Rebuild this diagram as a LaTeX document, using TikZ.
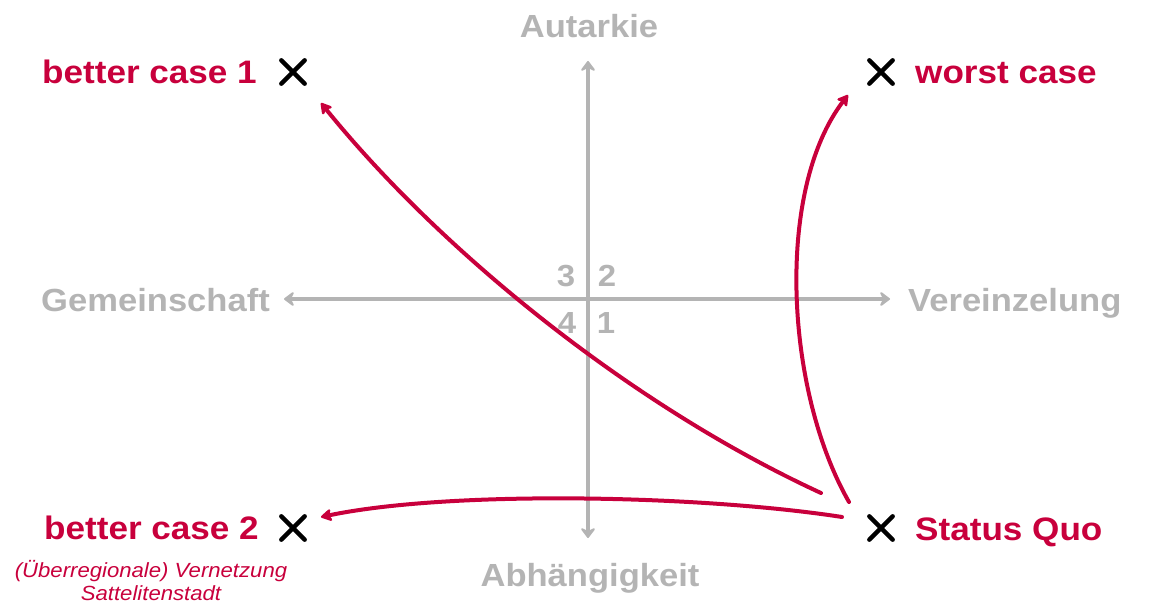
\documentclass[tikz,border=0pt]{standalone}
\usepackage{fontspec}
\setmainfont{Liberation Sans}
\newfontfamily\labfont[FakeStretch=1.08]{Liberation Sans}
\usetikzlibrary{arrows.meta,shapes.misc}
\definecolor{axgray}{RGB}{180,180,180}
\definecolor{cred}{RGB}{200,0,60}
\tikzset{
  axis/.style={draw=axgray,line width=3.6pt,{Stealth[length=12pt,width=18pt,inset=4.5pt,round]}-{Stealth[length=12pt,width=18pt,inset=4.5pt,round]}},
  axlabel/.style={text=axgray,inner sep=0pt,anchor=base,font=\labfont\bfseries\fontsize{32}{36}\selectfont},
  numlabel/.style={text=axgray,inner sep=0pt,anchor=base,font=\labfont\bfseries\fontsize{30.5}{34}\selectfont},
  caselabel/.style={text=cred,inner sep=0pt,font=\labfont\bfseries\fontsize{32.5}{36}\selectfont},
  sublabel/.style={text=cred,inner sep=0pt,anchor=base,font=\labfont\itshape\fontsize{20.5}{24}\selectfont},
  xmark/.style={cross out,draw=black,line width=4.4pt,line cap=round,minimum size=19pt,inner sep=0pt},
  move/.style={draw=cred,line width=4pt,line cap=round,-{Stealth[length=13pt,width=15pt,inset=3.5pt,round]}}
}
\begin{document}
\begin{tikzpicture}[x=1pt,y=-1pt]
\useasboundingbox (0,0) rectangle (1157,604);
% axes
\coordinate (top) at (588,61);
\coordinate (bot) at (588,538);
\coordinate (lft) at (284,299);
\coordinate (rgt) at (890,299);
\draw[axis] (bot) -- (top);
\draw[axis] (lft) -- (rgt);
% axis labels
\node[axlabel] (aut) at (589,38) {Autarkie};
\node[axlabel] (abh) at (590,586) {Abhängigkeit};
\node[axlabel,anchor=base east] (gem) at (270,311) {Gemeinschaft};
\node[axlabel,anchor=base west] (ver) at (908,311) {Vereinzelung};
% quadrant numbers
\node[numlabel] (q3) at (566,287) {3};
\node[numlabel] (q2) at (607,287) {2};
\node[numlabel] (q4) at (567,333) {4};
\node[numlabel] (q1) at (606,333) {1};
% crosses
\node[xmark] (xbc1) at (293,72) {};
\node[xmark] (xwc) at (881,72) {};
\node[xmark] (xbc2) at (293,528) {};
\node[xmark] (xsq) at (881,528) {};
% case labels
\node[caselabel,anchor=base east] (bc1) at (257,84) {better case 1};
\node[caselabel,anchor=base west] (wc) at (915,84) {worst case};
\node[caselabel,anchor=base east] (bc2) at (259,539) {better case 2};
\node[caselabel,anchor=base west] (sq) at (915,540) {Status Quo};
\node[sublabel] (sub1) at (151,577) {(Überregionale) Vernetzung};
\node[sublabel] (sub2) at (151,600) {Sattelitenstadt};
% connector endpoints
\coordinate (s1) at (821,493);
\coordinate (e1) at (321,103);
\coordinate (s2) at (849,502);
\coordinate (e2) at (848,95);
\coordinate (s3) at (842,517);
\coordinate (e3) at (321,517);
\draw[move] (s1) .. controls (630,405) and (440,250) .. (e1);
\draw[move] (s2) .. controls (785,390) and (775,190) .. (e2);
\draw[move] (s3) .. controls (700,495) and (450,490) .. (e3);
\end{tikzpicture}
\end{document}
